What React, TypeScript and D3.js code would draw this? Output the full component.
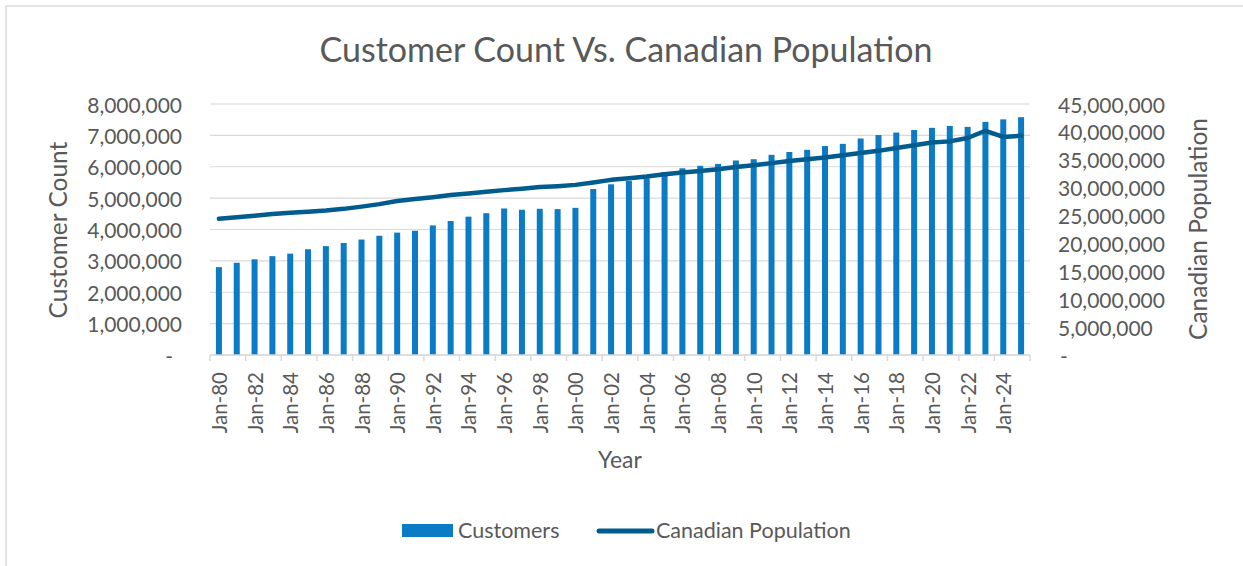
import * as d3 from "d3";
import * as React from "react";

// years Jan-80 .. Jan-25
const years = d3.range(1980, 2026);

const customers = [
  2800000, 2940000, 3050000, 3150000, 3230000, 3370000, 3470000, 3570000,
  3680000, 3800000, 3900000, 3960000, 4130000, 4270000, 4410000, 4520000,
  4670000, 4630000, 4660000, 4650000, 4690000, 5290000, 5440000, 5550000,
  5630000, 5830000, 5950000, 6030000, 6090000, 6200000, 6240000, 6380000,
  6470000, 6540000, 6660000, 6730000, 6900000, 7010000, 7090000, 7170000,
  7240000, 7300000, 7270000, 7430000, 7510000, 7580000,
];

const population = [
  24430000, 24700000, 24970000, 25270000, 25500000, 25700000, 25900000,
  26200000, 26600000, 27050000, 27600000, 27950000, 28300000, 28700000,
  28960000, 29260000, 29560000, 29800000, 30100000, 30270000, 30500000,
  30930000, 31400000, 31700000, 32000000, 32400000, 32700000, 33000000,
  33300000, 33700000, 34000000, 34400000, 34800000, 35100000, 35400000,
  35800000, 36200000, 36600000, 37100000, 37600000, 38100000, 38300000,
  38900000, 40200000, 39100000, 39300000,
];

const leftTicks = d3.range(0, 8000001, 1000000);
const rightTicks = d3.range(0, 45000001, 5000000);

const FONT = "Lato, 'Open Sans', sans-serif";
const TEXT = "#595959";
const GRID = "#d9d9d9";
const BAR = "#0a7bc4";
const LINE = "#005c8f";

const fmt = (v: number) => (v === 0 ? "-" : d3.format(",")(v));
const label = (y: number) => "Jan-" + String(y % 100).padStart(2, "0");

export default function App() {
  const width = 1243,
    height = 566;
  const margin = { top: 104, right: 213, bottom: 211, left: 210 };
  const w = width - margin.left - margin.right,
    h = height - margin.top - margin.bottom;

  const x = d3.scaleBand<number>().domain(years).range([0, w]);
  const yL = d3.scaleLinear().domain([0, 8000000]).range([h, 0]);
  const yR = d3.scaleLinear().domain([0, 45000000]).range([h, 0]);
  const barW = 6;

  const line = d3
    .line<number>()
    .x((d, i) => (x(years[i]) as number) + x.bandwidth() / 2)
    .y((d) => yR(d));

  const tickIdx = d3.range(0, years.length + 1, 2);

  return (
    <div style={{ position: "fixed", left: 0, top: 0 }}>
      <svg width={width} height={height} style={{ display: "block" }}>
        <rect width={width} height={height} fill="#fff" />
        <rect
          x={6}
          y={6}
          width={width + 20}
          height={height + 20}
          fill="none"
          stroke={GRID}
          strokeWidth={1.5}
        />
        <text
          x={626}
          y={62}
          textAnchor="middle"
          fontFamily={FONT}
          fontSize={34}
          fill={TEXT}
        >
          Customer Count Vs. Canadian Population
        </text>
        <g transform={`translate(${margin.left},${margin.top})`}>
          {leftTicks.map((t) => (
            <line
              key={t}
              x1={0}
              x2={w}
              y1={yL(t)}
              y2={yL(t)}
              stroke={GRID}
              strokeWidth={1.2}
            />
          ))}
          {customers.map((v, i) => (
            <rect
              key={i}
              x={(x(years[i]) as number) + x.bandwidth() / 2 - barW / 2}
              y={yL(v)}
              width={barW}
              height={h - yL(v)}
              fill={BAR}
            />
          ))}
          <path
            d={line(population) || ""}
            fill="none"
            stroke={LINE}
            strokeWidth={4.5}
            strokeLinecap="round"
            strokeLinejoin="round"
          />
          {/* x axis */}
          <line x1={0} x2={w} y1={h} y2={h} stroke={GRID} strokeWidth={1.5} />
          {tickIdx.map((i) => {
            const px = i * x.step();
            return (
              <line key={i} x1={px} x2={px} y1={h} y2={h + 6} stroke={GRID} strokeWidth={1.5} />
            );
          })}
          {years.map((yr, i) =>
            i % 2 === 0 ? (
              <text
                key={yr}
                transform={`translate(${(x(yr) as number) + x.bandwidth() / 2},${h + 17}) rotate(-90)`}
                textAnchor="end"
                dominantBaseline="central"
                fontFamily={FONT}
                fontSize={20.5}
                fill={TEXT}
              >
                {label(yr)}
              </text>
            ) : null
          )}
          {/* left axis labels */}
          {leftTicks.map((t) => (
            <text
              key={t}
              x={t === 0 ? -37 : -28}
              y={yL(t)}
              textAnchor="end"
              dominantBaseline="central"
              fontFamily={FONT}
              fontSize={21}
              fill={TEXT}
            >
              {fmt(t)}
            </text>
          ))}
          {/* right axis labels */}
          {rightTicks.map((t) => (
            <text
              key={t}
              x={w + 28 + (t === 0 ? 2 : 0)}
              y={yR(t)}
              textAnchor="start"
              dominantBaseline="central"
              fontFamily={FONT}
              fontSize={21}
              fill={TEXT}
            >
              {fmt(t)}
            </text>
          ))}
        </g>
        <text
          transform="translate(57,230) rotate(-90)"
          textAnchor="middle"
          dominantBaseline="central"
          fontFamily={FONT}
          fontSize={24.5}
          fill={TEXT}
        >
          Customer Count
        </text>
        <text
          transform="translate(1197,229) rotate(-90)"
          textAnchor="middle"
          dominantBaseline="central"
          fontFamily={FONT}
          fontSize={24.5}
          fill={TEXT}
        >
          Canadian Population
        </text>
        <text
          x={620}
          y={468}
          textAnchor="middle"
          fontFamily={FONT}
          fontSize={23}
          fill={TEXT}
        >
          Year
        </text>
        {/* legend */}
        <rect x={402} y={524} width={51} height={13} fill={BAR} />
        <text x={458} y={538} fontFamily={FONT} fontSize={21.5} fill={TEXT}>
          Customers
        </text>
        <line
          x1={599}
          x2={652}
          y1={531}
          y2={531}
          stroke={LINE}
          strokeWidth={5}
          strokeLinecap="round"
        />
        <text x={656} y={538} fontFamily={FONT} fontSize={21.5} fill={TEXT}>
          Canadian Population
        </text>
      </svg>
    </div>
  );
}
